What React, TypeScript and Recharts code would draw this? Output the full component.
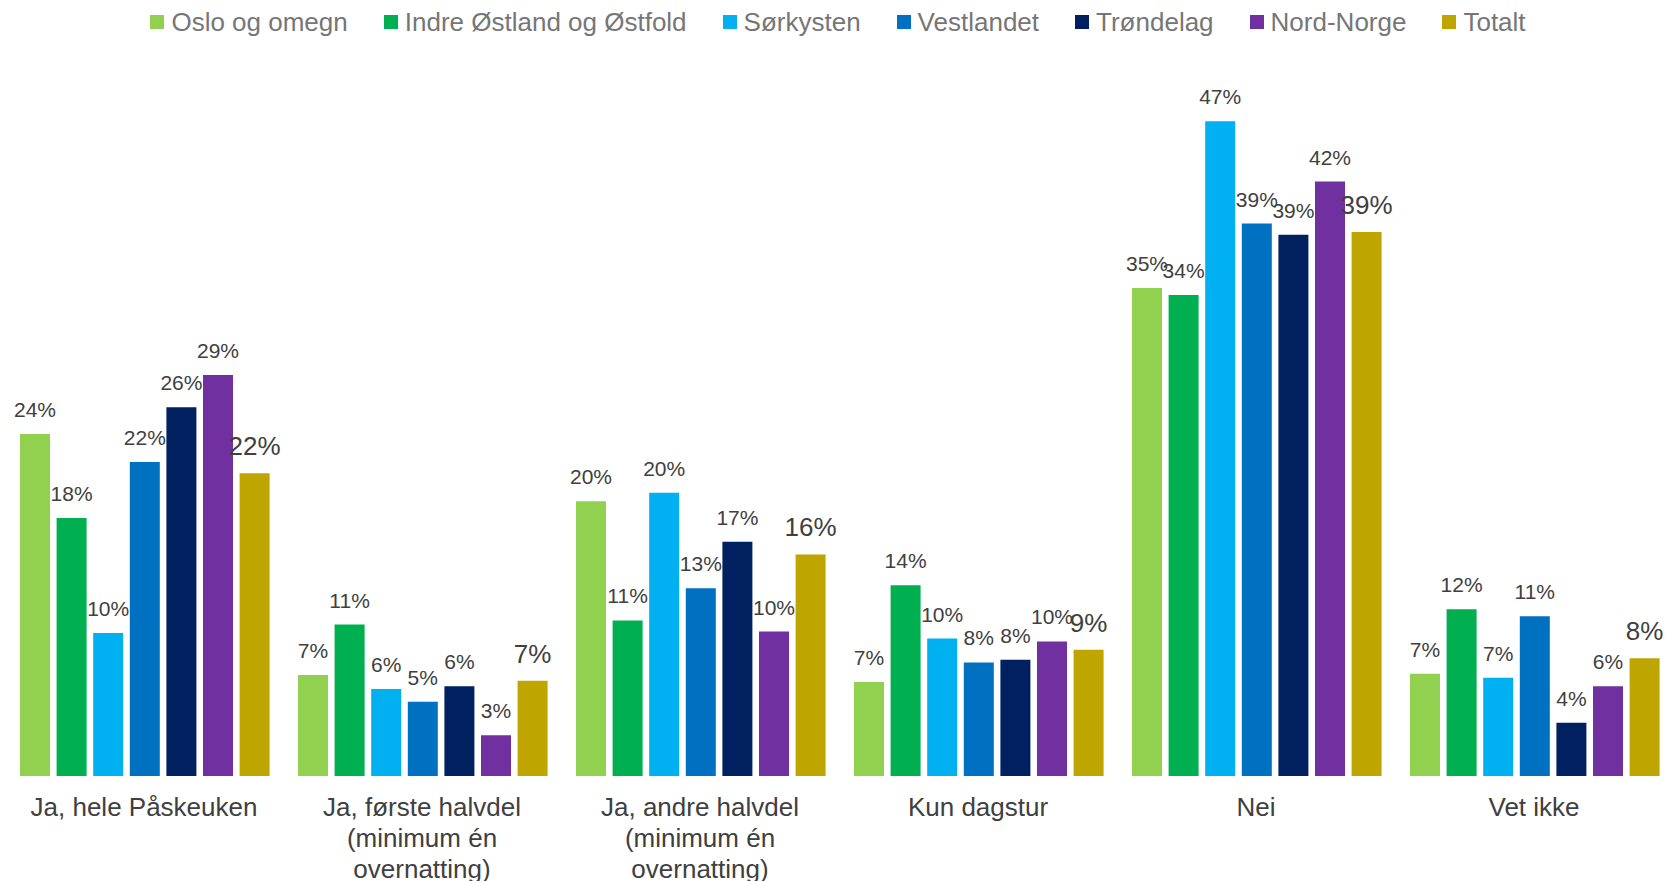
import React from 'react';
import { BarChart, Bar, XAxis, YAxis, Legend, LabelList } from 'recharts';

// Svaralternativer (x-aksen)
const categories = [
  'Ja, hele Påskeuken',
  'Ja, første halvdel\n(minimum én\novernatting)',
  'Ja, andre halvdel\n(minimum én\novernatting)',
  'Kun dagstur',
  'Nei',
  'Vet ikke',
];

// prosent per region, lest av grafen
const osloOgOmegn = [24.4, 7.2, 19.6, 6.7, 34.8, 7.3];
const indreOstland = [18.4, 10.8, 11.1, 13.6, 34.3, 11.9];
const sorkysten = [10.2, 6.2, 20.2, 9.8, 46.7, 7.0];
const vestlandet = [22.4, 5.3, 13.4, 8.1, 39.4, 11.4];
const trondelag = [26.3, 6.4, 16.7, 8.3, 38.6, 3.8];
const nordNorge = [28.6, 2.9, 10.3, 9.6, 42.4, 6.4];
const totalt = [21.6, 6.8, 15.8, 9.0, 38.8, 8.4];

const series = [
  { key: 'oslo', name: 'Oslo og omegn', color: '#92D050', values: osloOgOmegn },
  { key: 'indre', name: 'Indre Østland og Østfold', color: '#00B050', values: indreOstland },
  { key: 'sor', name: 'Sørkysten', color: '#00B0F0', values: sorkysten },
  { key: 'vest', name: 'Vestlandet', color: '#0070C0', values: vestlandet },
  { key: 'trond', name: 'Trøndelag', color: '#002060', values: trondelag },
  { key: 'nord', name: 'Nord-Norge', color: '#7030A0', values: nordNorge },
  { key: 'tot', name: 'Totalt', color: '#BFA500', values: totalt },
];

const chartData = categories.map((c, i) => {
  const row: any = { category: c };
  series.forEach((s) => {
    row[s.key] = s.values[i];
  });
  return row;
});

const FONT = '"Liberation Sans", Arial, sans-serif';

const CategoryTick = ({ x, y, payload }: any) => {
  const lines = String(payload.value).split('\n');
  return (
    <text x={x} y={y} textAnchor="middle" fill="#404040" fontSize={26} fontFamily={FONT}>
      {lines.map((l, i) => (
        <tspan key={i} x={x} dy={i === 0 ? 40 : 31}>
          {l}
        </tspan>
      ))}
    </text>
  );
};

const LegendContent = () => (
  <div
    style={{
      height: 44,
      display: 'flex',
      justifyContent: 'center',
      alignItems: 'center',
      gap: 36,
      paddingLeft: 11,
      fontFamily: FONT,
      fontSize: 26,
      color: '#767676',
    }}
  >
    {series.map((s) => (
      <div key={s.key} style={{ display: 'flex', alignItems: 'center', gap: 7 }}>
        <span style={{ width: 14, height: 14, background: s.color, display: 'inline-block' }} />
        <span>{s.name}</span>
      </div>
    ))}
  </div>
);

export default function App() {
  return (
    <div style={{ position: 'absolute', left: 0, top: 0, width: 1665, height: 881, overflow: 'hidden', background: '#fff' }}>
      <BarChart
        width={1680}
        height={881}
        data={chartData}
        margin={{ top: 31, right: 7, bottom: 0, left: 5 }}
        barCategoryGap={15}
        barGap={6.6}
      >
        <XAxis
          dataKey="category"
          axisLine={false}
          tickLine={false}
          tickSize={0}
          tickMargin={0}
          interval={0}
          height={105}
          tick={<CategoryTick />}
        />
        <YAxis hide domain={[0, 50]} />
        <Legend verticalAlign="top" wrapperStyle={{ top: 0, left: 0, width: 1665 }} content={<LegendContent />} />
        {series.map((s) => (
          <Bar key={s.key} dataKey={s.key} name={s.name} fill={s.color} isAnimationActive={false}>
            <LabelList
              dataKey={s.key}
              position="top"
              offset={s.key === 'tot' ? 18 : 17}
              fill="#404040"
              fontSize={s.key === 'tot' ? 26 : 21}
              fontFamily={FONT}
              formatter={(v: any) => `${Math.round(Number(v))}%`}
            />
          </Bar>
        ))}
      </BarChart>
    </div>
  );
}
